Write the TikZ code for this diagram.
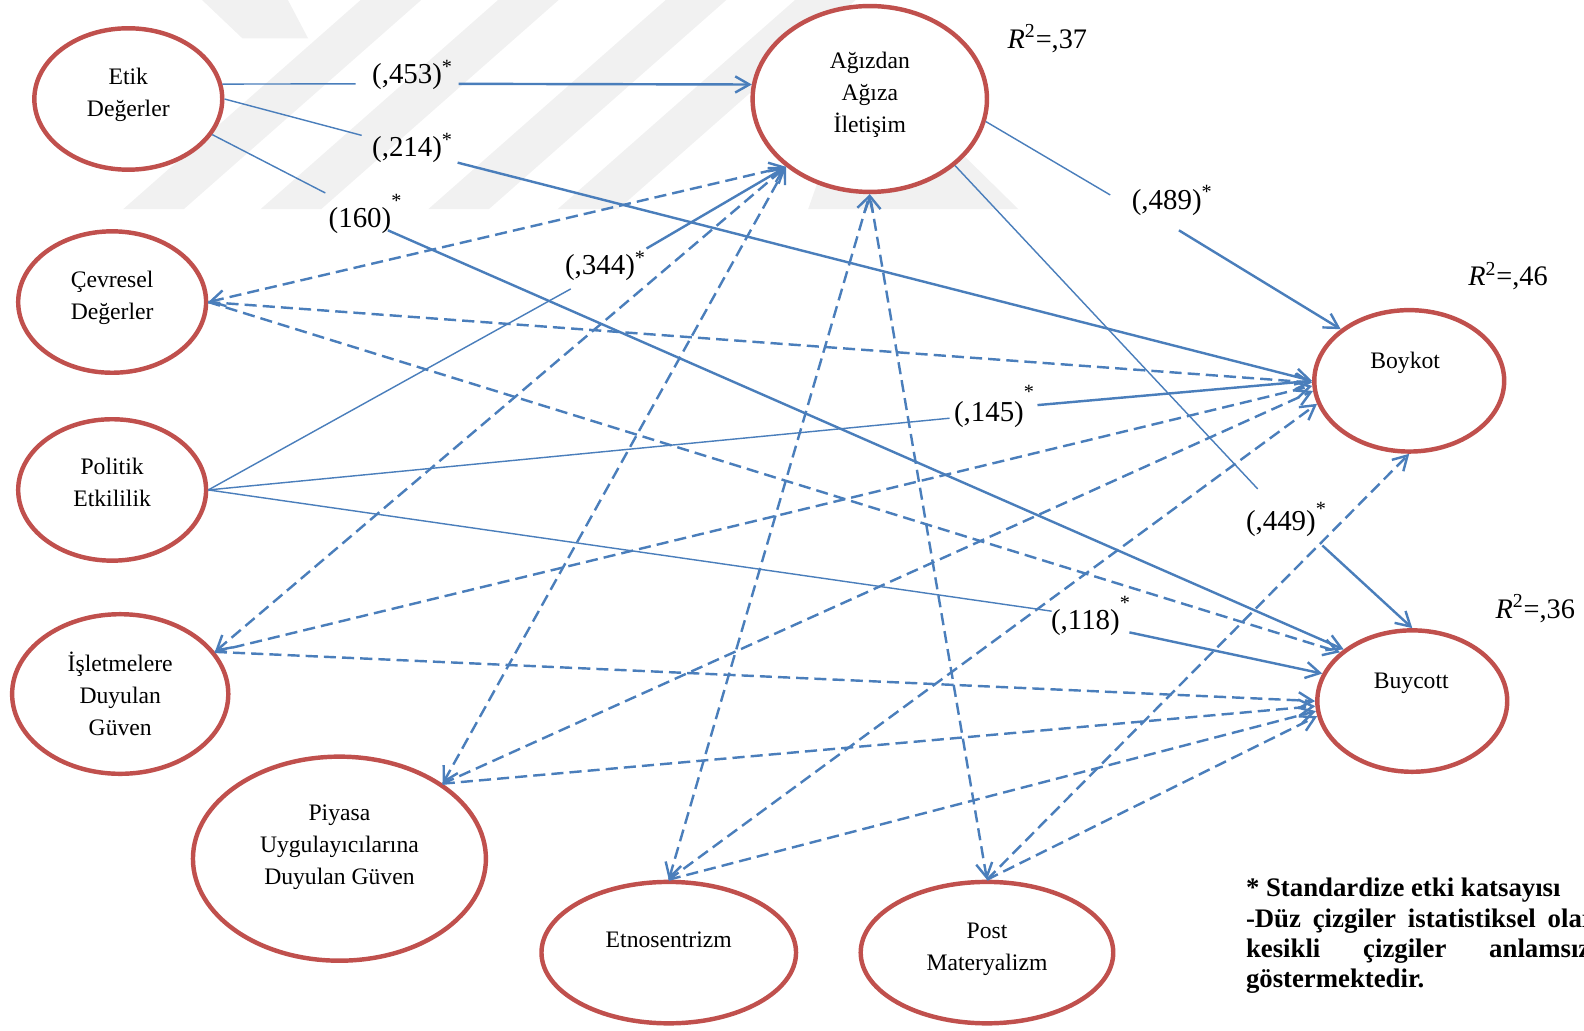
\documentclass[tikz,border=0pt]{standalone}
\usepackage{fontspec}
\setmainfont{Liberation Serif}
\usetikzlibrary{arrows.meta,shapes.geometric}

\definecolor{ered}{HTML}{C0504D}
\definecolor{eblue}{HTML}{4A7EBB}
\definecolor{wmgray}{HTML}{F1F1F1}

% significance star after a coefficient, optionally lifted further
\newcommand\coefstar[1][0pt]{\raisebox{#1}{\textsuperscript{*}}}

\tikzset{
  >={Straight Barb[length=7pt,width=8pt]},
  construct/.style={ellipse, draw=ered, line width=2.2pt, fill=white, inner sep=0pt},
  ctext/.style={align=center, inner sep=0pt, font=\fontsize{11.7}{15.8}\selectfont},
  coef/.style={inner sep=0pt, anchor=base west, font=\fontsize{14.3}{16}\selectfont},
  rsq/.style={inner sep=0pt, anchor=base west, font=\fontsize{14}{16}\selectfont},
  sigthin/.style={draw=eblue, line width=0.7pt},
  sigpath/.style={draw=eblue, line width=1.2pt},
  nspath/.style={draw=eblue, line width=1.2pt, dash pattern=on 6pt off 3pt},
  watermark/.style={fill=wmgray},
}

\begin{document}
\begin{tikzpicture}[x=0.5pt,y=-0.5pt]
\path[use as bounding box] (0,0) rectangle (1568,1020);
\clip (0,0) rectangle (1568,1020);

% faint background watermark
\fill[watermark] (122,207) -- (182,207) -- (417,0) -- (357,0) -- cycle;
\fill[watermark] (258,207) -- (318,207) -- (553,0) -- (493,0) -- cycle;
\fill[watermark] (424,207) -- (484,207) -- (719,0) -- (659,0) -- cycle;
\fill[watermark] (552,207) -- (612,207) -- (847,0) -- (787,0) -- cycle;
\fill[watermark] (200,0) -- (285,0) -- (305,38) -- (240,38) -- cycle;
\fill[watermark] (820,150) -- (950,150) -- (1008,207) -- (800,207) -- cycle;

% constructs
\node[construct, minimum width=93pt, minimum height=70pt] (etik) at (127,98) {};
\node[construct, minimum width=116pt, minimum height=92pt] (agiz) at (861,98) {};
\node[construct, minimum width=93pt, minimum height=70pt] (cevre) at (111,299) {};
\node[construct, minimum width=93pt, minimum height=70pt] (politik) at (111,485) {};
\node[construct, minimum width=107pt, minimum height=79pt] (isl) at (119,687) {};
\node[construct, minimum width=145pt, minimum height=101pt] (piy) at (336,850) {};
\node[construct, minimum width=126pt, minimum height=70pt] (etno) at (662,943) {};
\node[construct, minimum width=125pt, minimum height=70pt] (post) at (977,943) {};
\node[construct, minimum width=94pt, minimum height=70pt] (boykot) at (1395,377) {};
\node[construct, minimum width=94pt, minimum height=70pt] (buycott) at (1398,694) {};

% construct names
\node[ctext] (etik-t) at (127,94) {Etik\\Değerler};
\node[ctext] (agiz-t) at (861,94) {Ağızdan\\Ağıza\\İletişim};
\node[ctext] (cevre-t) at (111,295) {Çevresel\\Değerler};
\node[ctext] (politik-t) at (111,478) {Politik\\Etkililik};
\node[ctext] (isl-t) at (119,687) {İşletmelere\\Duyulan\\Güven};
\node[ctext] (piy-t) at (336,839) {Piyasa\\Uygulayıcılarına\\Duyulan Güven};
\node[ctext] (etno-t) at (662,930) {Etnosentrizm};
\node[ctext] (post-t) at (977,940) {Post\\Materyalizm};
\node[ctext] (boykot-t) at (1391,359) {Boykot};
\node[ctext] (buycott-t) at (1397,676) {Buycott};

% explained variance
\node[rsq] (r37) at (997,48) {\textit{R}\textsuperscript{2}=,37};
\node[rsq] (r46) at (1453,283) {\textit{R}\textsuperscript{2}=,46};
\node[rsq] (r36) at (1480,612) {\textit{R}\textsuperscript{2}=,36};

% non-significant paths
\draw[nspath,<->] (cevre.east) -- (agiz.219);
\draw[nspath,->] (cevre.east) -- (boykot.181);
\draw[nspath,->] (cevre.east) -- (buycott.146);
\draw[nspath,<->] (isl.24) -- (agiz.219);
\draw[nspath,->] (isl.24) -- (boykot.183);
\draw[nspath,->] (isl.24) -- (buycott.180);
\draw[nspath,<->] (piy.36) -- (agiz.219);
\draw[nspath,->] (piy.36) -- (boykot.186);
\draw[nspath,->] (piy.36) -- (buycott.183);
\draw[nspath,<->] (etno.north) -- (agiz.south);
\draw[nspath,->] (etno.north) -- (boykot.194);
\draw[nspath,->] (etno.north) -- (buycott.186);
\draw[nspath,<->] (post.north) -- (agiz.south);
\draw[nspath,->] (post.north) -- (boykot.south);
\draw[nspath,->] (post.north) -- (buycott.189);

% significant paths, broken around their coefficients
\coordinate (a1) at (352,83);   \coordinate (a2) at (454,83);
\coordinate (b1) at (358,134);  \coordinate (b2) at (453,161);
\coordinate (c1) at (322,191);  \coordinate (c2) at (384,228);
\coordinate (d1) at (565,286);  \coordinate (d2) at (640,246);
\coordinate (e1) at (940,414);  \coordinate (e2) at (1027,401);
\coordinate (f1) at (1041,605); \coordinate (f2) at (1118,626);
\coordinate (g1) at (1099,193); \coordinate (g2) at (1167,228);
\coordinate (h1) at (1245,484); \coordinate (h2) at (1309,540);

\draw[sigthin] (etik.9) -- (a1);       \draw[sigpath,->] (a2) -- (agiz.173);
\draw[sigthin] (etik.0) -- (b1);       \draw[sigpath,->] (b2) -- (boykot.180);
\draw[sigthin] (etik.-23) -- (c1);     \draw[sigpath,->] (c2) -- (buycott.143);
\draw[sigthin] (politik.0) -- (d1);    \draw[sigpath,->] (d2) -- (agiz.219);
\draw[sigthin] (politik.0) -- (e1);    \draw[sigpath,->] (e2) -- (boykot.180);
\draw[sigthin] (politik.0) -- (f1);    \draw[sigpath,->] (f2) -- (buycott.163);
\draw[sigthin] (agiz.-11) -- (g1);     \draw[sigpath,->] (g2) -- (boykot.143);
\draw[sigthin] (agiz.-38) -- (h1);     \draw[sigpath,->] (h2) -- (buycott.north);

% standardized coefficients
\node[coef] (k453) at (368,83) {(,453)\coefstar};
\node[coef] (k214) at (368,155) {(,214)\coefstar};
\node[coef] (k160) at (325,225) {(160)\coefstar[4.5pt]};
\node[coef] (k344) at (559,272) {(,344)\coefstar};
\node[coef] (k489) at (1120,207) {(,489)\coefstar};
\node[coef] (k145) at (944,417) {(,145)\coefstar[6pt]};
\node[coef] (k449) at (1233,525) {(,449)\coefstar[2pt]};
\node[coef] (k118) at (1040,623) {(,118)\coefstar[4.5pt]};

% legend (justified block running past the right margin)
\node[anchor=north west, inner sep=0pt, text width=238pt, align=justify,
      font=\bfseries\fontsize{13.25}{15}\selectfont] (legend) at (1233,869)
  {* Standardize etki katsayısı\\
   -Düz çizgiler istatistiksel olarak anlamlı,\linebreak
   kesikli çizgiler anlamsız ilişkileri\linebreak
   göstermektedir.};
\end{tikzpicture}
\end{document}
